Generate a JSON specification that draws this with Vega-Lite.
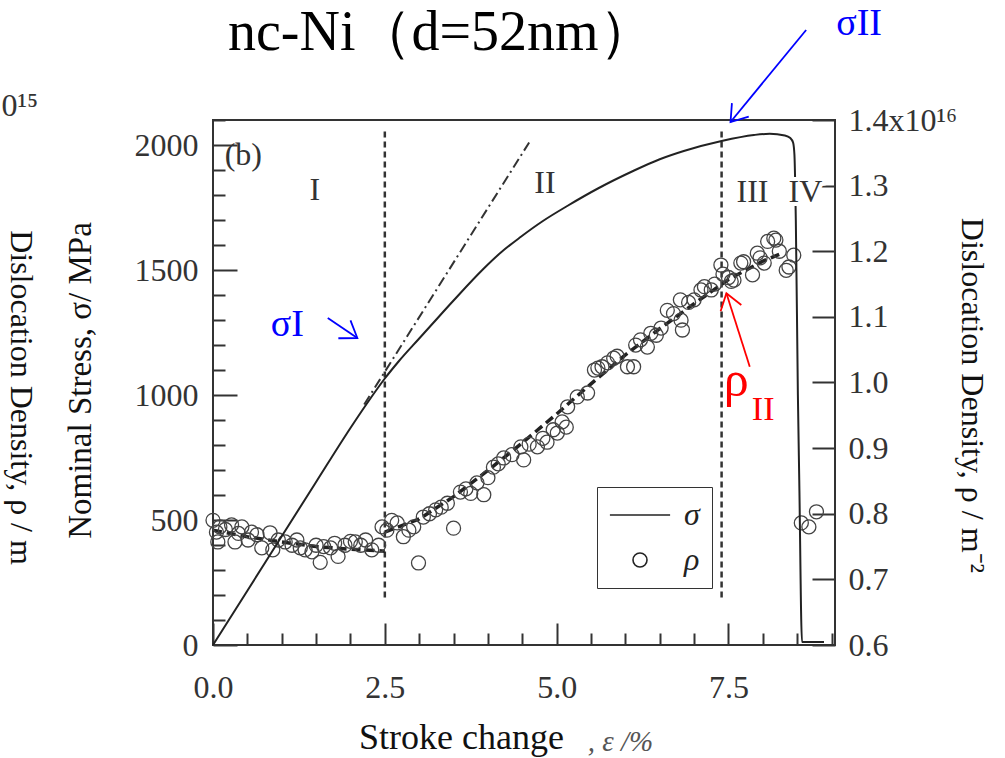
{
  "$schema": "https://vega.github.io/schema/vega-lite/v6.json",
  "width": 622,
  "height": 525,
  "autosize": {"type": "none"},
  "padding": {"left": 213, "top": 120, "right": 170, "bottom": 113},
  "background": "white",
  "title": {"text": "nc-Ni（d=52nm）", "font": "Liberation Serif", "fontSize": 56, "fontWeight": "normal", "color": "#000", "anchor": "start", "frame": "group", "dx": 15, "offset": -101, "baseline": "alphabetic"},
  "config": {
    "view": {"stroke": "#333", "strokeWidth": 2},
    "font": "Liberation Serif",
    "axis": {"domain": false, "grid": false, "labelFont": "Liberation Serif", "labelFontSize": 32, "labelColor": "#333", "tickColor": "#333", "tickWidth": 2, "titleFont": "Liberation Serif", "titleFontWeight": "normal", "titleColor": "#111", "labelFlush": false, "labelOverlap": false}
  },
  "datasets": {
    "vlines": [{"x": 2.5, "y1": 190, "y2": 2055}, {"x": 7.4, "y1": 190, "y2": 2055}],
    "dashdot": [{"x": 2.2, "s": 962}, {"x": 4.6, "s": 2010}],
    "stress": [
      {"x": 0, "s": 0}, {"x": 0.5, "s": 217}, {"x": 1.0, "s": 435}, {"x": 1.5, "s": 652}, {"x": 2.0, "s": 868},
      {"x": 2.3, "s": 990}, {"x": 2.5, "s": 1066}, {"x": 2.7, "s": 1134}, {"x": 3.0, "s": 1226}, {"x": 3.2, "s": 1287},
      {"x": 3.5, "s": 1378}, {"x": 3.94, "s": 1506}, {"x": 4.18, "s": 1568}, {"x": 4.475, "s": 1632}, {"x": 4.8, "s": 1696},
      {"x": 5.16, "s": 1757}, {"x": 5.6, "s": 1826}, {"x": 6.12, "s": 1897}, {"x": 6.5, "s": 1943}, {"x": 6.85, "s": 1976},
      {"x": 7.4, "s": 2016}, {"x": 7.87, "s": 2040}, {"x": 8.1, "s": 2045}, {"x": 8.32, "s": 2038}, {"x": 8.4, "s": 2028},
      {"x": 8.44, "s": 2010}, {"x": 8.46, "s": 1960}, {"x": 8.48, "s": 1700}, {"x": 8.51, "s": 1000}, {"x": 8.53, "s": 660},
      {"x": 8.57, "s": 12}, {"x": 8.89, "s": 12}
    ],
    "rhofit": [
      {"seg": "I", "x": 0.0, "r": 0.775}, {"seg": "I", "x": 0.5, "r": 0.765}, {"seg": "I", "x": 1.0, "r": 0.757},
      {"seg": "I", "x": 1.5, "r": 0.75}, {"seg": "I", "x": 2.0, "r": 0.746}, {"seg": "I", "x": 2.5, "r": 0.743},
      {"seg": "II", "x": 2.5, "r": 0.772}, {"seg": "II", "x": 3.0, "r": 0.792}, {"seg": "II", "x": 3.5, "r": 0.826},
      {"seg": "II", "x": 4.0, "r": 0.866}, {"seg": "II", "x": 4.5, "r": 0.908}, {"seg": "II", "x": 5.0, "r": 0.952},
      {"seg": "II", "x": 5.5, "r": 0.998}, {"seg": "II", "x": 6.0, "r": 1.042}, {"seg": "II", "x": 6.5, "r": 1.082},
      {"seg": "II", "x": 7.0, "r": 1.12}, {"seg": "II", "x": 7.5, "r": 1.157}, {"seg": "II", "x": 8.0, "r": 1.185},
      {"seg": "II", "x": 8.3, "r": 1.198}
    ],
    "rho": [
      {"series": "ρ", "x": 0.00, "r": 0.790}, {"series": "ρ", "x": 0.05, "r": 0.772}, {"series": "ρ", "x": 0.10, "r": 0.780},
      {"series": "ρ", "x": 0.07, "r": 0.757}, {"series": "ρ", "x": 0.18, "r": 0.776}, {"series": "ρ", "x": 0.27, "r": 0.783},
      {"series": "ρ", "x": 0.32, "r": 0.757}, {"series": "ρ", "x": 0.37, "r": 0.770}, {"series": "ρ", "x": 0.42, "r": 0.780},
      {"series": "ρ", "x": 0.51, "r": 0.760}, {"series": "ρ", "x": 0.56, "r": 0.772}, {"series": "ρ", "x": 0.64, "r": 0.768},
      {"series": "ρ", "x": 0.71, "r": 0.748}, {"series": "ρ", "x": 0.83, "r": 0.771}, {"series": "ρ", "x": 0.87, "r": 0.745},
      {"series": "ρ", "x": 0.95, "r": 0.760}, {"series": "ρ", "x": 1.05, "r": 0.757}, {"series": "ρ", "x": 1.15, "r": 0.752},
      {"series": "ρ", "x": 1.22, "r": 0.760}, {"series": "ρ", "x": 1.27, "r": 0.748}, {"series": "ρ", "x": 1.34, "r": 0.745},
      {"series": "ρ", "x": 1.44, "r": 0.742}, {"series": "ρ", "x": 1.50, "r": 0.752}, {"series": "ρ", "x": 1.56, "r": 0.726},
      {"series": "ρ", "x": 1.61, "r": 0.750}, {"series": "ρ", "x": 1.71, "r": 0.748}, {"series": "ρ", "x": 1.77, "r": 0.755},
      {"series": "ρ", "x": 1.82, "r": 0.735}, {"series": "ρ", "x": 1.92, "r": 0.752}, {"series": "ρ", "x": 2.00, "r": 0.758},
      {"series": "ρ", "x": 2.07, "r": 0.757}, {"series": "ρ", "x": 2.15, "r": 0.752}, {"series": "ρ", "x": 2.22, "r": 0.760},
      {"series": "ρ", "x": 2.31, "r": 0.745}, {"series": "ρ", "x": 2.41, "r": 0.752}, {"series": "ρ", "x": 2.46, "r": 0.780},
      {"series": "ρ", "x": 2.53, "r": 0.775}, {"series": "ρ", "x": 2.60, "r": 0.790}, {"series": "ρ", "x": 2.68, "r": 0.786},
      {"series": "ρ", "x": 2.77, "r": 0.765}, {"series": "ρ", "x": 2.85, "r": 0.775}, {"series": "ρ", "x": 2.92, "r": 0.780},
      {"series": "ρ", "x": 2.99, "r": 0.725}, {"series": "ρ", "x": 3.06, "r": 0.795}, {"series": "ρ", "x": 3.15, "r": 0.800},
      {"series": "ρ", "x": 3.24, "r": 0.806}, {"series": "ρ", "x": 3.32, "r": 0.810}, {"series": "ρ", "x": 3.41, "r": 0.816},
      {"series": "ρ", "x": 3.50, "r": 0.778}, {"series": "ρ", "x": 3.60, "r": 0.833}, {"series": "ρ", "x": 3.68, "r": 0.838},
      {"series": "ρ", "x": 3.75, "r": 0.831}, {"series": "ρ", "x": 3.84, "r": 0.847}, {"series": "ρ", "x": 3.94, "r": 0.829},
      {"series": "ρ", "x": 4.00, "r": 0.855}, {"series": "ρ", "x": 4.08, "r": 0.871}, {"series": "ρ", "x": 4.15, "r": 0.876},
      {"series": "ρ", "x": 4.23, "r": 0.885}, {"series": "ρ", "x": 4.35, "r": 0.890}, {"series": "ρ", "x": 4.48, "r": 0.902},
      {"series": "ρ", "x": 4.52, "r": 0.882}, {"series": "ρ", "x": 4.60, "r": 0.906}, {"series": "ρ", "x": 4.72, "r": 0.902},
      {"series": "ρ", "x": 4.80, "r": 0.915}, {"series": "ρ", "x": 4.86, "r": 0.909}, {"series": "ρ", "x": 4.95, "r": 0.928},
      {"series": "ρ", "x": 5.01, "r": 0.923}, {"series": "ρ", "x": 5.08, "r": 0.940}, {"series": "ρ", "x": 5.14, "r": 0.932},
      {"series": "ρ", "x": 5.16, "r": 0.963}, {"series": "ρ", "x": 5.30, "r": 0.978}, {"series": "ρ", "x": 5.45, "r": 0.984},
      {"series": "ρ", "x": 5.55, "r": 1.019}, {"series": "ρ", "x": 5.60, "r": 1.022}, {"series": "ρ", "x": 5.66, "r": 1.024},
      {"series": "ρ", "x": 5.74, "r": 1.030}, {"series": "ρ", "x": 5.83, "r": 1.037}, {"series": "ρ", "x": 5.88, "r": 1.040},
      {"series": "ρ", "x": 6.03, "r": 1.024}, {"series": "ρ", "x": 6.12, "r": 1.024}, {"series": "ρ", "x": 6.15, "r": 1.057},
      {"series": "ρ", "x": 6.22, "r": 1.065}, {"series": "ρ", "x": 6.32, "r": 1.054}, {"series": "ρ", "x": 6.37, "r": 1.075},
      {"series": "ρ", "x": 6.45, "r": 1.072}, {"series": "ρ", "x": 6.52, "r": 1.083}, {"series": "ρ", "x": 6.61, "r": 1.110},
      {"series": "ρ", "x": 6.70, "r": 1.105}, {"series": "ρ", "x": 6.81, "r": 1.095}, {"series": "ρ", "x": 6.83, "r": 1.080},
      {"series": "ρ", "x": 6.80, "r": 1.126}, {"series": "ρ", "x": 6.92, "r": 1.122}, {"series": "ρ", "x": 7.00, "r": 1.126},
      {"series": "ρ", "x": 7.10, "r": 1.141}, {"series": "ρ", "x": 7.15, "r": 1.146}, {"series": "ρ", "x": 7.25, "r": 1.141},
      {"series": "ρ", "x": 7.30, "r": 1.150}, {"series": "ρ", "x": 7.39, "r": 1.179}, {"series": "ρ", "x": 7.42, "r": 1.165},
      {"series": "ρ", "x": 7.50, "r": 1.160}, {"series": "ρ", "x": 7.54, "r": 1.154}, {"series": "ρ", "x": 7.58, "r": 1.156},
      {"series": "ρ", "x": 7.68, "r": 1.182}, {"series": "ρ", "x": 7.72, "r": 1.184}, {"series": "ρ", "x": 7.85, "r": 1.164},
      {"series": "ρ", "x": 7.92, "r": 1.197}, {"series": "ρ", "x": 7.96, "r": 1.190}, {"series": "ρ", "x": 8.02, "r": 1.182},
      {"series": "ρ", "x": 8.07, "r": 1.215}, {"series": "ρ", "x": 8.16, "r": 1.220}, {"series": "ρ", "x": 8.19, "r": 1.217},
      {"series": "ρ", "x": 8.24, "r": 1.200}, {"series": "ρ", "x": 8.34, "r": 1.171}, {"series": "ρ", "x": 8.38, "r": 1.176},
      {"series": "ρ", "x": 8.45, "r": 1.194}, {"series": "ρ", "x": 8.56, "r": 0.786}, {"series": "ρ", "x": 8.67, "r": 0.780},
      {"series": "ρ", "x": 8.78, "r": 0.803}
    ],
    "numerals": [{"t": "I", "x": 1.48, "s": 1820}, {"t": "II", "x": 4.83, "s": 1848}, {"t": "III", "x": 7.85, "s": 1812}, {"t": "IV", "x": 8.62, "s": 1812}],
    "halo": [{"t": "IV", "x": 8.62, "s": 1812}],
    "panel": [{"t": "(b)", "x": 0.17, "s": 1960}],
    "bluetext": [{"t": "σI", "x": 1.08, "s": 1280}, {"t": "σII", "x": 9.4, "s": 2484}],
    "redrho": [{"t": "ρ", "x": 7.43, "s": 996}],
    "redsub": [{"t": "II", "x": 7.84, "s": 900}],
    "bluearrows": [{"x": 1.67, "s": 1308, "x2": 2.1, "s2": 1228}, {"x": 8.63, "s": 2460, "x2": 7.53, "s2": 2092}],
    "redarrow": [{"x": 7.81, "s": 1113, "x2": 7.47, "s2": 1407}],
    "headA": [{"x": 2.1, "s": 1228}],
    "headB": [{"x": 7.53, "s": 2092}],
    "headC": [{"x": 7.47, "s": 1407}]
  },
  "resolve": {"scale": {"y": "independent"}, "axis": {"x": "independent", "y": "independent"}},
  "layer": [
    {
      "data": {"name": "vlines"},
      "mark": {"type": "rule", "color": "#333", "strokeWidth": 2.5, "strokeDash": [6, 4]},
      "encoding": {
        "x": {"field": "x", "type": "quantitative", "scale": {"domain": [0, 9.05], "nice": false, "zero": false},
          "axis": {"orient": "bottom", "values": [0, 2.5, 5, 7.5], "format": ".1f", "tickSize": -22, "labelPadding": 49, "title": "Stroke change", "titleFontSize": 36, "titleX": 248, "titleY": 103, "titleBaseline": "alphabetic", "titleAlign": "center"}},
        "y": {"field": "y1", "type": "quantitative", "scale": {"domain": [0, 2100], "nice": false, "zero": false}, "axis": null},
        "y2": {"field": "y2"}
      }
    },
    {
      "data": {"name": "dashdot"},
      "mark": {"type": "line", "color": "#333", "strokeWidth": 2, "strokeDash": [10, 4, 2, 4]},
      "encoding": {
        "x": {"field": "x", "type": "quantitative", "scale": {"domain": [0, 9.05], "nice": false, "zero": false},
          "axis": {"orient": "bottom", "values": [0.5, 1, 1.5, 2, 3, 3.5, 4, 4.5, 5.5, 6, 6.5, 7, 8, 8.5, 9], "tickSize": -12, "labels": false, "title": ", ε /%", "titleFontSize": 29, "titleFontStyle": "italic", "titleColor": "#555", "titleX": 407, "titleY": 105, "titleBaseline": "alphabetic", "titleAlign": "center"}},
        "y": {"field": "s", "type": "quantitative", "scale": {"domain": [0, 2100], "nice": false, "zero": false},
          "axis": {"orient": "left", "values": [100, 200, 300, 400, 600, 700, 800, 900, 1100, 1200, 1300, 1400, 1600, 1700, 1800, 1900, 2100], "tickSize": -12, "labels": false, "title": null}}
      }
    },
    {
      "data": {"name": "rhofit"},
      "mark": {"type": "line", "color": "#222", "strokeWidth": 3.5, "strokeDash": [9, 5]},
      "encoding": {
        "x": {"field": "x", "type": "quantitative", "scale": {"domain": [0, 9.05], "nice": false, "zero": false}, "axis": null},
        "y": {"field": "r", "type": "quantitative", "scale": {"domain": [0.6, 1.4], "nice": false, "zero": false},
          "axis": {"orient": "left", "values": [1.4], "ticks": false, "labelExpr": "'0¹⁵'", "labelAlign": "left", "labelPadding": 212, "labelOffset": -15, "title": "Dislocation Density, ρ / m", "titleFontSize": 32, "titleAngle": 90, "titleX": -193, "titleY": 277, "titleBaseline": "middle", "titleAlign": "center"}},
        "detail": {"field": "seg"}
      }
    },
    {
      "data": {"name": "rho"},
      "mark": {"type": "point", "filled": false, "size": 196, "strokeWidth": 1.3, "color": "#444", "opacity": 1},
      "encoding": {
        "x": {"field": "x", "type": "quantitative", "scale": {"domain": [0, 9.05], "nice": false, "zero": false}, "axis": null},
        "y": {"field": "r", "type": "quantitative", "scale": {"domain": [0.6, 1.4], "nice": false, "zero": false},
          "axis": {"orient": "right", "values": [0.6, 0.7, 0.8, 0.9, 1.0, 1.1, 1.2, 1.3, 1.4], "tickSize": -23, "labelPadding": 36, "labelExpr": "datum.value > 1.35 ? '1.4x10¹⁶' : format(datum.value, '.1f')", "title": "Dislocation Density, ρ / m⁻²", "titleFontSize": 32, "titleAngle": 90, "titleX": 136, "titleY": 275, "titleBaseline": "middle", "titleAlign": "center"}},
        "shape": {"field": "series", "type": "nominal", "scale": {"domain": ["σ", "ρ"], "range": ["M-4.3,0H4.3", "circle"]},
          "legend": {"orient": "none", "legendX": 384, "legendY": 367, "title": null, "padding": 12, "strokeColor": "#333", "symbolSize": 196, "symbolOffset": 15, "labelOffset": 28, "labelFont": "Liberation Serif", "labelFontSize": 32, "labelFontStyle": "italic", "labelColor": "#222", "rowPadding": 13, "symbolStrokeColor": "#222", "symbolStrokeWidth": 1.6, "symbolFillColor": "transparent"}}
      }
    },
    {
      "data": {"name": "stress"},
      "mark": {"type": "line", "color": "#222", "strokeWidth": 2, "interpolate": "monotone"},
      "encoding": {
        "x": {"field": "x", "type": "quantitative", "scale": {"domain": [0, 9.05], "nice": false, "zero": false}, "axis": null},
        "y": {"field": "s", "type": "quantitative", "scale": {"domain": [0, 2100], "nice": false, "zero": false},
          "axis": {"orient": "left", "values": [0, 500, 1000, 1500, 2000], "format": "d", "tickSize": -24, "labelPadding": 39, "title": "Nominal Stress, σ/ MPa", "titleFontSize": 33, "titleAngle": 270, "titleX": -133, "titleY": 260, "titleBaseline": "middle", "titleAlign": "center"}}
      }
    },
    {
      "data": {"name": "halo"},
      "mark": {"type": "text", "font": "Liberation Serif", "fontSize": 32, "color": "white", "stroke": "white", "strokeWidth": 8, "align": "center", "baseline": "middle"},
      "encoding": {
        "x": {"field": "x", "type": "quantitative", "scale": {"domain": [0, 9.05], "nice": false, "zero": false}, "axis": null},
        "y": {"field": "s", "type": "quantitative", "scale": {"domain": [0, 2100], "nice": false, "zero": false}, "axis": null},
        "text": {"field": "t"}
      }
    },
    {
      "data": {"name": "numerals"},
      "mark": {"type": "text", "font": "Liberation Serif", "fontSize": 32, "color": "#333", "align": "center", "baseline": "middle"},
      "encoding": {
        "x": {"field": "x", "type": "quantitative", "scale": {"domain": [0, 9.05], "nice": false, "zero": false}, "axis": null},
        "y": {"field": "s", "type": "quantitative", "scale": {"domain": [0, 2100], "nice": false, "zero": false}, "axis": null},
        "text": {"field": "t"}
      }
    },
    {
      "data": {"name": "panel"},
      "mark": {"type": "text", "font": "Liberation Serif", "fontSize": 32, "color": "#333", "align": "left", "baseline": "middle"},
      "encoding": {
        "x": {"field": "x", "type": "quantitative", "scale": {"domain": [0, 9.05], "nice": false, "zero": false}, "axis": null},
        "y": {"field": "s", "type": "quantitative", "scale": {"domain": [0, 2100], "nice": false, "zero": false}, "axis": null},
        "text": {"field": "t"}
      }
    },
    {
      "data": {"name": "bluetext"},
      "mark": {"type": "text", "font": "Liberation Serif", "fontSize": 38, "color": "#0000ff", "align": "center", "baseline": "middle"},
      "encoding": {
        "x": {"field": "x", "type": "quantitative", "scale": {"domain": [0, 9.05], "nice": false, "zero": false}, "axis": null},
        "y": {"field": "s", "type": "quantitative", "scale": {"domain": [0, 2100], "nice": false, "zero": false}, "axis": null},
        "text": {"field": "t"}
      }
    },
    {
      "data": {"name": "redrho"},
      "mark": {"type": "text", "font": "Liberation Serif", "fontSize": 50, "color": "#ff0000", "align": "left", "baseline": "alphabetic"},
      "encoding": {
        "x": {"field": "x", "type": "quantitative", "scale": {"domain": [0, 9.05], "nice": false, "zero": false}, "axis": null},
        "y": {"field": "s", "type": "quantitative", "scale": {"domain": [0, 2100], "nice": false, "zero": false}, "axis": null},
        "text": {"field": "t"}
      }
    },
    {
      "data": {"name": "redsub"},
      "mark": {"type": "text", "font": "Liberation Serif", "fontSize": 34, "color": "#ff0000", "align": "left", "baseline": "alphabetic"},
      "encoding": {
        "x": {"field": "x", "type": "quantitative", "scale": {"domain": [0, 9.05], "nice": false, "zero": false}, "axis": null},
        "y": {"field": "s", "type": "quantitative", "scale": {"domain": [0, 2100], "nice": false, "zero": false}, "axis": null},
        "text": {"field": "t"}
      }
    },
    {
      "data": {"name": "bluearrows"},
      "mark": {"type": "rule", "color": "#0000ff", "strokeWidth": 1.8},
      "encoding": {
        "x": {"field": "x", "type": "quantitative", "scale": {"domain": [0, 9.05], "nice": false, "zero": false}, "axis": null},
        "y": {"field": "s", "type": "quantitative", "scale": {"domain": [0, 2100], "nice": false, "zero": false}, "axis": null},
        "x2": {"field": "x2"},
        "y2": {"field": "s2"}
      }
    },
    {
      "data": {"name": "redarrow"},
      "mark": {"type": "rule", "color": "#ff0000", "strokeWidth": 1.8},
      "encoding": {
        "x": {"field": "x", "type": "quantitative", "scale": {"domain": [0, 9.05], "nice": false, "zero": false}, "axis": null},
        "y": {"field": "s", "type": "quantitative", "scale": {"domain": [0, 2100], "nice": false, "zero": false}, "axis": null},
        "x2": {"field": "x2"},
        "y2": {"field": "s2"}
      }
    },
    {
      "data": {"name": "headA"},
      "mark": {"type": "point", "shape": "M-0.82,-0.57L0,0L-0.82,0.57", "size": 1444, "filled": false, "color": "#0000ff", "strokeWidth": 1.8, "angle": 34, "opacity": 1},
      "encoding": {
        "x": {"field": "x", "type": "quantitative", "scale": {"domain": [0, 9.05], "nice": false, "zero": false}, "axis": null},
        "y": {"field": "s", "type": "quantitative", "scale": {"domain": [0, 2100], "nice": false, "zero": false}, "axis": null}
      }
    },
    {
      "data": {"name": "headB"},
      "mark": {"type": "point", "shape": "M-0.82,-0.57L0,0L-0.82,0.57", "size": 1444, "filled": false, "color": "#0000ff", "strokeWidth": 1.8, "angle": 129, "opacity": 1},
      "encoding": {
        "x": {"field": "x", "type": "quantitative", "scale": {"domain": [0, 9.05], "nice": false, "zero": false}, "axis": null},
        "y": {"field": "s", "type": "quantitative", "scale": {"domain": [0, 2100], "nice": false, "zero": false}, "axis": null}
      }
    },
    {
      "data": {"name": "headC"},
      "mark": {"type": "point", "shape": "M-0.82,-0.57L0,0L-0.82,0.57", "size": 1444, "filled": false, "color": "#ff0000", "strokeWidth": 1.8, "angle": 253, "opacity": 1},
      "encoding": {
        "x": {"field": "x", "type": "quantitative", "scale": {"domain": [0, 9.05], "nice": false, "zero": false}, "axis": null},
        "y": {"field": "s", "type": "quantitative", "scale": {"domain": [0, 2100], "nice": false, "zero": false}, "axis": null}
      }
    }
  ]
}
